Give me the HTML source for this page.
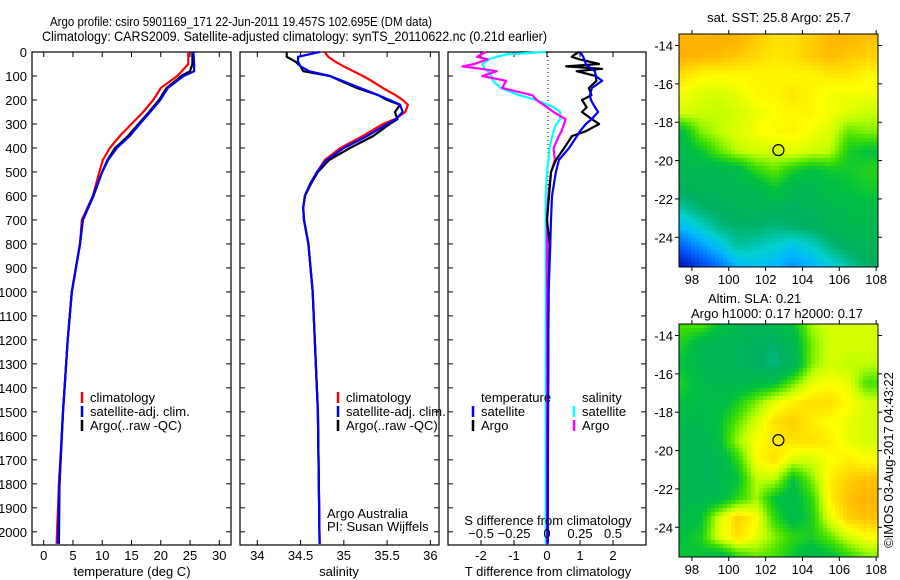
<!DOCTYPE html>
<html><head><meta charset="utf-8"><style>
html,body{margin:0;padding:0;background:#fff;}
svg{display:block;font-family:"Liberation Sans",sans-serif;}
</style></head><body>
<svg id="c" width="900" height="580" viewBox="0 0 900 580" xmlns="http://www.w3.org/2000/svg">
<rect width="900" height="580" fill="#fff"/>
<text x="50" y="26" font-size="13" textLength="382" lengthAdjust="spacingAndGlyphs">Argo profile: csiro 5901169_171 22-Jun-2011 19.457S 102.695E (DM data)</text>
<text x="42" y="41" font-size="14" textLength="505" lengthAdjust="spacingAndGlyphs">Climatology: CARS2009. Satellite-adjusted climatology: synTS_20110622.nc (0.21d earlier)</text>
<g id="g"></g>
</svg>
<script>
// ---- profile data ----
const depthT=[0,50,80,100,150,200,250,300,350,400,450,500,600,700,800,1000,1200,1500,1800,2050];
const tempClim=[24.7,24.7,23.6,22.8,20.0,18.7,17.0,15.0,13.0,11.3,10.1,9.5,8.4,6.5,6.2,4.8,4.1,3.3,2.6,2.2];
const tempSat=[25.6,25.7,25.7,23.9,21.2,19.9,18.2,16.4,14.7,12.5,11.0,10.0,8.4,6.7,6.2,4.8,4.1,3.3,2.7,2.4];
const tempArgo=[25.4,25.4,25.0,23.5,21.0,19.7,18.0,16.2,14.4,12.2,10.9,10.0,8.5,6.7,6.2,4.8,4.1,3.3,2.7,2.6];
const depthS=[0,20,40,60,80,100,120,150,180,200,220,250,280,300,350,400,450,500,550,600,650,700,800,1000,1500,2050];
const salClim=[34.78,34.82,34.9,35.0,35.11,35.22,35.32,35.45,35.6,35.68,35.74,35.71,35.59,35.45,35.22,34.96,34.78,34.69,34.61,34.55,34.53,34.54,34.59,34.64,34.7,34.72];
const salSat=[34.72,34.47,34.47,34.5,34.6,34.84,34.98,35.19,35.4,35.53,35.65,35.68,35.6,35.5,35.27,35.0,34.8,34.69,34.61,34.55,34.53,34.54,34.59,34.64,34.7,34.72];
const salArgo=[34.34,34.34,34.44,34.5,34.53,34.84,34.96,35.15,35.4,35.5,35.65,35.59,35.62,35.53,35.34,35.07,34.83,34.7,34.62,34.55,34.53,34.54,34.59,34.64,34.7,34.72];
const depthD=[0,10,20,30,50,60,70,80,100,120,150,180,200,230,250,280,300,330,350,400,450,500,600,700,800,1000,1500,2050];
const dTSat=[1.03,1.05,1.1,1.12,1.18,1.25,1.35,1.45,1.48,1.67,1.36,1.3,1.33,1.45,1.55,1.35,1.18,1.0,0.91,0.67,0.36,0.27,0.15,0.12,0.1,0.05,0.03,0.02];
const dTArgo=[0.97,0.85,0.75,0.97,1.58,0.58,1.67,0.9,1.48,1.5,1.27,1.35,1.06,1.2,1.06,1.36,1.58,1.18,0.76,0.52,0.27,0.12,0.06,0.0,0.08,0.05,0.03,0.02];
const dSSat=[-0.01,-0.31,-0.38,-0.44,-0.49,-0.48,-0.47,-0.45,-0.42,-0.41,-0.35,-0.21,-0.08,0.05,0.1,0.1,0.07,0.05,0.04,0.02,0.01,0.0,-0.01,-0.01,-0.01,-0.01,-0.01,-0.01];
const dSArgo=[-0.46,-0.5,-0.53,-0.45,-0.55,-0.64,-0.5,-0.38,-0.49,-0.31,-0.34,-0.11,-0.08,0.0,0.05,0.14,0.13,0.11,0.09,0.05,0.06,0.03,0.01,0.0,0.0,0.0,0.0,0.0];
const depthTicks=[0,100,200,300,400,500,600,700,800,900,1000,1100,1200,1300,1400,1500,1600,1700,1800,1900,2000];
const tempTicks=[0,5,10,15,20,25,30];
const salTicks=[34,34.5,35,35.5,36];
const dTTicks=[-2,-1,0,1,2];
const dSTicks=[-0.5,-0.25,0,0.25,0.5];
const sstTitle="sat. SST: 25.8 Argo: 25.7";
// ---- map data (colour index 0..1 at 1-degree cells, lon 97.5..107.5, lat -13.5..-25.5) ----
const mapLons=[97.5,98.5,99.5,100.5,101.5,102.5,103.5,104.5,105.5,106.5,107.5];
const mapLats=[-13.5,-14.5,-15.5,-16.5,-17.5,-18.5,-19.5,-20.5,-21.5,-22.5,-23.5,-24.5,-25.5];
const sstGrid=[
[.86,.86,.87,.86,.83,.8,.8,.82,.85,.86,.84],
[.87,.86,.85,.83,.81,.79,.8,.83,.85,.83,.82],
[.8,.77,.77,.77,.77,.77,.77,.77,.79,.79,.77],
[.75,.73,.72,.74,.77,.77,.79,.77,.75,.75,.75],
[.72,.71,.7,.72,.74,.76,.77,.77,.75,.73,.71],
[.54,.66,.7,.73,.75,.77,.77,.75,.73,.64,.66],
[.52,.56,.64,.7,.72,.72,.74,.72,.7,.58,.55],
[.5,.5,.5,.52,.6,.64,.58,.54,.57,.57,.59],
[.46,.48,.48,.5,.5,.56,.5,.5,.53,.55,.57],
[.4,.44,.46,.48,.48,.48,.46,.48,.5,.52,.53],
[.3,.36,.42,.44,.44,.42,.44,.45,.48,.5,.5],
[.2,.26,.32,.4,.38,.36,.32,.36,.42,.46,.48],
[.08,.16,.22,.3,.32,.3,.26,.3,.34,.4,.44]];
const slaGrid=[
[.62,.62,.55,.5,.48,.5,.55,.68,.72,.72,.72],
[.58,.5,.48,.48,.46,.44,.5,.65,.72,.72,.72],
[.55,.5,.48,.48,.46,.42,.48,.66,.72,.7,.7],
[.58,.52,.5,.5,.52,.55,.65,.74,.76,.74,.62],
[.55,.52,.52,.58,.66,.74,.78,.8,.8,.76,.72],
[.52,.5,.55,.64,.72,.8,.82,.78,.76,.74,.72],
[.5,.48,.55,.68,.76,.78,.8,.8,.78,.74,.72],
[.5,.48,.5,.6,.76,.8,.72,.72,.76,.78,.76],
[.5,.48,.5,.55,.7,.7,.55,.66,.78,.82,.84],
[.5,.5,.52,.6,.68,.55,.52,.6,.78,.84,.86],
[.52,.55,.72,.82,.76,.6,.52,.58,.74,.82,.84],
[.55,.58,.74,.8,.74,.66,.6,.58,.64,.72,.76],
[.56,.55,.5,.6,.64,.62,.56,.5,.54,.6,.66]];
const lonTicks=[98,100,102,104,106,108];
const latTicks=[-14,-16,-18,-20,-22,-24];
const argoLon=102.695, argoLat=-19.457;

const NS="http://www.w3.org/2000/svg";
const G=document.getElementById('g');
function mk(tag,attrs,parent){const e=document.createElementNS(NS,tag);for(const k in attrs)e.setAttribute(k,attrs[k]);(parent||G).appendChild(e);return e;}
function txt(s,x,y,anchor,size,parent){const t=mk('text',{x:x,y:y,'text-anchor':anchor||'middle','font-size':size||13},parent);t.textContent=s;return t;}

const TOP=52,BOT=545,DMAX=2055;
const yD=d=>TOP+d*(BOT-TOP)/DMAX;
function linScale(d0,d1,r0,r1){return v=>r0+(v-d0)*(r1-r0)/(d1-d0);}
const xT=linScale(-2,32,32,231);
const xS=linScale(33.8,36.1,240,439);
const xDT=linScale(-3,3,448,646);
const xDS=linScale(-0.75,0.75,448,646);

function frame(x0,x1,name){
  const r=mk('rect',{x:x0,y:TOP,width:x1-x0,height:BOT-TOP,fill:'none',stroke:'#000','stroke-width':1.2});
  
  
  depthTicks.forEach(d=>{mk('line',{x1:x0,x2:x0+5,y1:yD(d),y2:yD(d),stroke:'#000'});mk('line',{x1:x1,x2:x1-5,y1:yD(d),y2:yD(d),stroke:'#000'});});
}
function xticks(vals,sc,labelY){
  vals.forEach(v=>{const x=sc(v);mk('line',{x1:x,x2:x,y1:BOT,y2:BOT-5,stroke:'#000'});mk('line',{x1:x,x2:x,y1:TOP,y2:TOP+5,stroke:'#000'});
    if(labelY){const t=txt(String(v),x,labelY,'middle',13);}});
}
function series(xs,ds,sc,color,name,w){
  const pts=xs.map((v,i)=>sc(v).toFixed(1)+','+yD(ds[i]).toFixed(1)).join(' ');
  const p=mk('polyline',{points:pts,fill:'none',stroke:color,'stroke-width':w||2.2,'stroke-linejoin':'round'});
  
  
}
function legendRow(x,y,color,label,name){
  mk('line',{x1:x,x2:x,y1:y-10,y2:y+1,stroke:color,'stroke-width':2.5});
  const t=txt(label,x+8,y,'start',13);
  
  
}

depthTicks.forEach(d=>{const t=txt(String(d),27,yD(d)+5,'end',13);});

frame(32,231,'temperature-panel');
xticks(tempTicks,xT,560);
series(tempClim,depthT,xT,'#ff0000','temp-climatology-line');
series(tempArgo,depthT,xT,'#000000','temp-argo-line');
series(tempSat,depthT,xT,'#0000ff','temp-satellite-line');
let t=txt('temperature (deg C)',132,576,'middle',13);
legendRow(82,402,'#ff0000','climatology','legend-climatology');
legendRow(82,416,'#0000ff','satellite-adj. clim.','legend-satellite');
legendRow(82,430,'#000000','Argo(..raw -QC)','legend-argo');

frame(240,439,'salinity-panel');
xticks(salTicks,xS,560);
series(salClim,depthS,xS,'#ff0000','sal-climatology-line');
series(salArgo,depthS,xS,'#000000','sal-argo-line');
series(salSat,depthS,xS,'#0000ff','sal-satellite-line');
t=txt('salinity',339,576,'middle',13);
legendRow(338,402,'#ff0000','climatology','legend-climatology-2');
legendRow(338,416,'#0000ff','satellite-adj. clim.','legend-satellite-2');
legendRow(338,430,'#000000','Argo(..raw -QC)','legend-argo-2');
t=txt('Argo Australia',327,518,'start',13);
t=txt('PI: Susan Wijffels',327,531,'start',13);

frame(448,646,'difference-panel');
mk('line',{x1:548,x2:548,y1:TOP,y2:yD(650),stroke:'#000','stroke-dasharray':'1,3'});
xticks(dTTicks,xDT,560);
series(dSSat,depthD,xDS,'#00ffff','sal-diff-satellite-line');
series(dSArgo,depthD,xDS,'#ff00ff','sal-diff-argo-line');
series(dTArgo,depthD,xDT,'#000000','temp-diff-argo-line');
series(dTSat,depthD,xDT,'#0000ff','temp-diff-satellite-line');
dSTicks.forEach(v=>{const tt=txt(String(v).replace('-','\u2212'),xDS(v),538,'middle',13);});
t=txt('S difference from climatology',548,525,'middle',13);
t=txt('T difference from climatology',548,576,'middle',13);
t=txt('temperature',481,402,'start',13);
t=txt('salinity',582,402,'start',13);
legendRow(473,416,'#0000ff','satellite','legend-temp-satellite');
legendRow(473,430,'#000000','Argo','legend-temp-argo');
legendRow(574,416,'#00ffff','satellite','legend-sal-satellite');
legendRow(574,430,'#ff00ff','Argo','legend-sal-argo');

const stops=[[0,[0,0,140]],[0.1,[0,32,200]],[0.2,[0,96,255]],[0.3,[0,184,255]],[0.36,[0,208,208]],[0.45,[0,176,96]],[0.55,[0,192,64]],[0.62,[64,224,0]],[0.7,[192,255,0]],[0.76,[255,255,0]],[0.84,[255,192,0]],[0.92,[255,144,0]],[1,[255,112,0]]];
function col(v){v=Math.max(0,Math.min(1,v));for(let i=1;i<stops.length;i++){if(v<=stops[i][0]){const a=stops[i-1],b=stops[i],f=(v-a[0])/(b[0]-a[0]);const c=a[1].map((x,k)=>Math.round(x+(b[1][k]-x)*f));return 'rgb('+c.join(',')+')';}}return 'rgb(255,112,0)';}
function sample(grid,lon,lat){
  let fx=(lon-mapLons[0])/(mapLons[1]-mapLons[0]);let fy=(lat-mapLats[0])/(mapLats[1]-mapLats[0]);
  fx=Math.max(0,Math.min(mapLons.length-1.001,fx));fy=Math.max(0,Math.min(mapLats.length-1.001,fy));
  const i=Math.floor(fx),j=Math.floor(fy),a=fx-i,b=fy-j;
  return grid[j][i]*(1-a)*(1-b)+grid[j][i+1]*a*(1-b)+grid[j+1][i]*(1-a)*b+grid[j+1][i+1]*a*b;
}
function drawMap(grid,y0,name,cell){
  const X0=679,X1=878,Y1=y0+233,L0=97.3,L1=108.1,A0=-13.4,A1=-25.55;
  const xl=lo=>X0+(lo-L0)*(X1-X0)/(L1-L0), yl=la=>y0+(la-A0)*(Y1-y0)/(A1-A0);
  const g=mk('g',{});
  
  
  for(let y=y0;y<Y1;y+=cell){for(let x=X0;x<X1;x+=cell){
    const lo=L0+(x+cell/2-X0)*(L1-L0)/(X1-X0), la=A0+(y+cell/2-y0)*(A1-A0)/(Y1-y0);
    mk('rect',{x:x,y:y,width:Math.min(cell,X1-x)+0.3,height:Math.min(cell,Y1-y)+0.3,fill:col(sample(grid,lo,la))},g);}}
  mk('rect',{x:X0,y:y0,width:X1-X0,height:Y1-y0,fill:'none',stroke:'#000'});
  lonTicks.forEach(v=>{const x=xl(v);mk('line',{x1:x,x2:x,y1:Y1,y2:Y1+4,stroke:'#000'});mk('line',{x1:x,x2:x,y1:y0,y2:y0-4,stroke:'#000'});
    const tt=txt(String(v),x,Y1+17,'middle',13);});
  latTicks.forEach(v=>{const y=yl(v);mk('line',{x1:X0,x2:X0-4,y1:y,y2:y,stroke:'#000'});mk('line',{x1:X1,x2:X1+4,y1:y,y2:y,stroke:'#000'});
    const tt=txt(String(v),673,y+5,'end',13);});
  const c=mk('circle',{cx:xl(argoLon),cy:yl(argoLat),r:5.5,fill:'none',stroke:'#000','stroke-width':1.2});
  
  
}
drawMap(sstGrid,34,'sst-map',4);
drawMap(slaGrid,324,'sla-map',4);
t=txt(sstTitle,779,22,'middle',13);
t=txt('Altim. SLA: 0.21',708,303,'start',13);
t=txt('Argo h1000: 0.17 h2000: 0.17',777,318,'middle',13);
t=txt('\u00a9IMOS 03-Aug-2017 04:43:22',0,0,'middle',13);t.setAttribute('transform','translate(893,460) rotate(-90)');
</script>
</body></html>
